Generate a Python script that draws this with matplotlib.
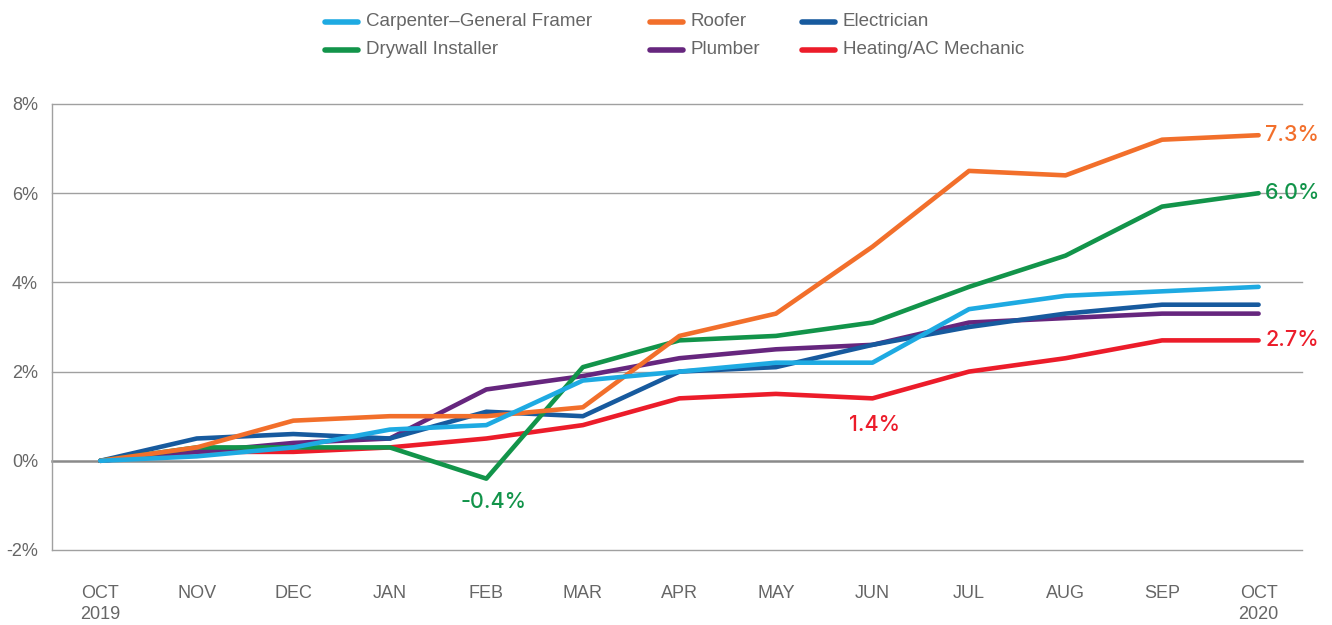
import matplotlib.pyplot as plt
from matplotlib.lines import Line2D

plt.rcParams['font.family'] = ['Liberation Sans', 'DejaVu Sans']

months = ["OCT\n2019", "NOV", "DEC", "JAN", "FEB", "MAR", "APR", "MAY",
          "JUN", "JUL", "AUG", "SEP", "OCT\n2020"]

carpenter = [0.0, 0.1, 0.3, 0.7, 0.8, 1.8, 2.0, 2.2, 2.2, 3.4, 3.7, 3.8, 3.9]
roofer = [0.0, 0.3, 0.9, 1.0, 1.0, 1.2, 2.8, 3.3, 4.8, 6.5, 6.4, 7.2, 7.3]
electrician = [0.0, 0.5, 0.6, 0.5, 1.1, 1.0, 2.0, 2.1, 2.6, 3.0, 3.3, 3.5, 3.5]
drywall = [0.0, 0.3, 0.3, 0.3, -0.4, 2.1, 2.7, 2.8, 3.1, 3.9, 4.6, 5.7, 6.0]
plumber = [0.0, 0.2, 0.4, 0.5, 1.6, 1.9, 2.3, 2.5, 2.6, 3.1, 3.2, 3.3, 3.3]
heating = [0.0, 0.2, 0.2, 0.3, 0.5, 0.8, 1.4, 1.5, 1.4, 2.0, 2.3, 2.7, 2.7]

yticks = [-2, 0, 2, 4, 6, 8]
ytick_labels = ["-2%", "0%", "2%", "4%", "6%", "8%"]

colors = {
    "Carpenter–General Framer": "#1EAAE2",
    "Roofer": "#F26F2B",
    "Electrician": "#175A9E",
    "Drywall Installer": "#12944A",
    "Plumber": "#66267E",
    "Heating/AC Mechanic": "#EC1C2A",
}
series = {
    "Carpenter–General Framer": carpenter,
    "Roofer": roofer,
    "Electrician": electrician,
    "Drywall Installer": drywall,
    "Plumber": plumber,
    "Heating/AC Mechanic": heating,
}
# drawing order (bottom to top)
draw_order = ["Heating/AC Mechanic", "Plumber", "Electrician",
              "Drywall Installer", "Roofer", "Carpenter–General Framer"]

fig = plt.figure(figsize=(13.32, 6.25), dpi=100)
ax = fig.add_axes([0.039, 0.12, 0.9385, 0.7136])

x = list(range(len(months)))
for i, name in enumerate(draw_order):
    ax.plot(x, series[name], color=colors[name], linewidth=3.3,
            solid_capstyle="round", zorder=3 + i)

ax.set_xlim(-0.5, 12.45)
ax.set_ylim(-2, 8)
ax.set_yticks(yticks)
ax.set_yticklabels(ytick_labels)
ax.set_xticks(x)
ax.set_xticklabels(months)
ax.tick_params(axis="both", length=0, labelsize=13, colors="#666666")
ax.tick_params(axis="x", pad=25)
ax.tick_params(axis="y", pad=10)
for lbl in ax.get_xticklabels():
    lbl.set_linespacing(1.35)

for y in yticks:
    if y == 0:
        ax.axhline(y, color="#8a8a8a", linewidth=1.8, zorder=2, clip_on=False)
    else:
        ax.axhline(y, color="#a0a0a0", linewidth=1.0, zorder=1, clip_on=False)

for side in ["top", "right", "bottom"]:
    ax.spines[side].set_visible(False)
ax.spines["left"].set_color("#a0a0a0")
ax.spines["left"].set_linewidth(1.0)

# end / point labels
lab = dict(fontsize=15.5, family=["Inter", "Liberation Sans"], weight="medium")
ax.text(12.07, roofer[-1], "7.3%", color=colors["Roofer"],
        va="center", ha="left", **lab)
ax.text(12.07, drywall[-1], "6.0%", color=colors["Drywall Installer"],
        va="center", ha="left", **lab)
ax.text(12.07, heating[-1], "2.7%", color=colors["Heating/AC Mechanic"],
        va="center", ha="left", **lab)
ax.text(8.02, 0.8, "1.4%", color=colors["Heating/AC Mechanic"],
        va="center", ha="center", **lab)
ax.text(4.07, -0.92, "-0.4%", color=colors["Drywall Installer"],
        va="center", ha="center", **lab)

# legend laid out by hand: (handle start px, row y px)
legend_names = ["Carpenter–General Framer", "Roofer", "Electrician",
                "Drywall Installer", "Plumber", "Heating/AC Mechanic"]
col_x = [325, 650, 802]
row_y = [22, 50]
W, H = 1332, 625
for k, name in enumerate(legend_names):
    cx = col_x[k % 3]
    ry = row_y[k // 3]
    fig.add_artist(Line2D([cx / W, (cx + 33) / W], [1 - ry / H, 1 - ry / H],
                          color=colors[name], linewidth=4,
                          solid_capstyle="round"))
    fig.text((cx + 41) / W, 1 - ry / H, name, fontsize=13.5, color="#666666",
             va="center", ha="left")

fig.savefig("out.png", dpi=100)
